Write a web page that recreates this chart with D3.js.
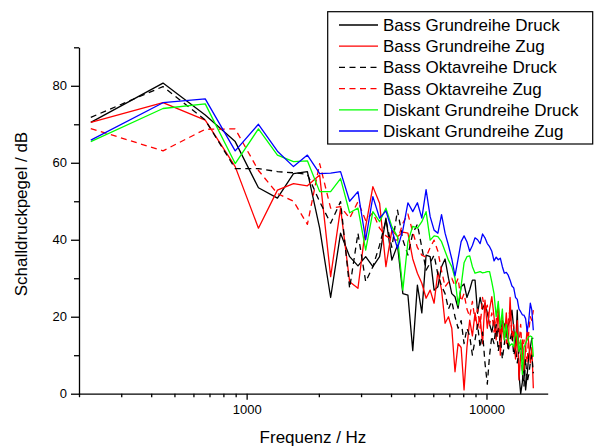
<!DOCTYPE html>
<html><head><meta charset="utf-8">
<script src="https://cdn.jsdelivr.net/npm/d3@7"></script>
<style>body{margin:0;background:#fff}svg{display:block}text{font-family:"Liberation Sans",Arial,sans-serif;fill:#000}</style>
</head><body>
<svg id="c" width="594" height="446"></svg>
<script>
const freqs = [224,448,672,896,1120,1344,1568,1792,2016,2240,2464,2688,2912,3136,3360,3584,3808,4032,4256,4480,4704,4928,5152,5376,5600,5824,6048,6272,6496,6720,6944,7168,7392,7616,7840,8064,8288,8512,8736,8960,9184,9408,9632,9856,10080,10304,10528,10752,10976,11200,11424,11648,11872,12096,12320,12544,12768,12992,13216,13440,13664,13888,14112,14336,14560,14784,15008,15232,15456,15680];

const bassGrundDruck = [70.5,80.7,72.4,65.5,53.5,50.8,57.2,57.7,43,25,41.7,35.6,33.2,35.6,33,35.6,45.6,34.7,38.6,26,25.6,11.2,28.2,21,36,35.6,26.9,27.8,33,35,30,26,25.2,22.2,27.8,28.5,25,27,29.5,29.5,20.9,25,22,23.5,21,18,16,19,14.8,17,14.8,19,18,16,18,19.1,21.7,17,12,21.7,5,0,3,8,1,5,10,12,14.4,14.4];
const bassGrundZug = [70.5,75.6,71.1,59,43,52.9,54.6,54,56.8,30.4,48.2,29.1,27.4,43.4,53.8,49.5,33,42.5,40.8,42,41.7,35,31.3,28.7,24.8,26.9,23.5,31.7,27,18.3,20,17,5.7,13,12,1,12,19.1,15,21,17,20,13,24.3,17,22,25.2,20,14,22,10,18,14,21,12,25,14,16,9,19,3.6,10,14,6,12,17,13,8,12,1.4];
const bassOktDruck = [71.8,79.8,71.1,58.5,58.5,57.7,57.4,57,49.9,44.3,49.9,27.4,41.7,29.1,33,38.6,45.1,38,47.7,40,36,41.7,44,38,32.1,34,36,31,28,26,22,24,20,17,19,13,17,15,10,14,18,12,16,8,2.5,10,15,13,18,11,15,9,13,17,11,14,16,10,12,8,11,13,6,2,9,3,5,8,10,5.3];
const bassOktZug = [68.9,63.1,68.7,68.8,58,52,50,44,59.8,48.2,48.6,45.6,49.9,45,47,43,41,40,39.9,44.3,46.7,42,38,36,35.5,38,39.9,37,32,27.8,29,30,28,30,24,26,22,20,24,19,22,17,25,21,23,18,21,16,19,23,15,20,17,13,19,22,15,18,10,16,13,18,9,14,12,8,16,20,19,21.7];
const diskGrundDruck = [65.5,74.1,75.3,59.8,68.8,62,60.3,60.5,52.5,52.5,55.9,47,48.2,37.3,47.3,44.7,48.2,43.4,40.8,26.9,39.5,43.5,43,44.7,47.3,39.9,41,40.8,39.5,37,34.7,33,30,23,28,34,35.6,35.8,33,31.3,31.5,31.7,31.4,31.5,31.7,31.7,29,26,20,24,17,22,14,18,13.9,12.5,13,12.2,16,15,11,14,5,12,13.1,14,14.8,15,14.8,9.6];
const diskGrundZug = [65.9,75.6,76.6,63.1,70,63,59,62,57.2,57.3,57.7,50,52.5,40,51.2,45.6,47.5,42.5,37.8,42.5,49.6,47.3,49.6,45.6,53,46,42.5,41.7,46.5,41.7,38.5,35,30.6,35,39.5,41,39.5,37,38.5,40.5,40,39,41.5,40.5,39,38.2,37,34.5,35.5,34.8,35.2,33,31.3,31.5,30.8,29.5,28,27.5,25,24.5,22,21.3,20.5,20.4,19.5,16.1,19,23.5,21.7,16.5];

const seriesNames = ["Bass Grundreihe Druck","Bass Grundreihe Zug","Bass Oktavreihe Druck","Bass Oktavreihe Zug","Diskant Grundreihe Druck","Diskant Grundreihe Zug"];
const seriesValues = [bassGrundDruck,bassGrundZug,bassOktDruck,bassOktZug,diskGrundDruck,diskGrundZug];
const seriesColors = ["#000000","#ff0000","#000000","#ff0000","#00ff00","#0000ff"];
const seriesDash = [null,null,"6,4.5","6,4.5",null,null];

const yMajor = [0,20,40,60,80];
const yMinor = [10,30,50,70,90];
const xMajor = [1000,10000];
const xMinor = [200,300,400,500,600,700,800,900,2000,3000,4000,5000,6000,7000,8000,9000];

const svg = d3.select("#c");
const x = d3.scaleLog().domain([200,18000]).range([79,547.7]);
const y = d3.scaleLinear().domain([0,90]).range([393.7,47.3]);

const line = d3.line().x(d=>x(d[0])).y(d=>y(d[1]));
const plot = svg.append("g");
seriesValues.forEach((vals,i)=>{
  plot.append("path")
    .attr("d", line(freqs.map((f,j)=>[f,vals[j]])))
    .attr("fill","none")
    .attr("stroke",seriesColors[i])
    .attr("stroke-width",1.3)
    .attr("stroke-linejoin","round")
    .attr("stroke-dasharray",seriesDash[i]);
});

// Axes
const yAxis = d3.axisLeft(y).tickValues(yMajor).tickSize(8).tickPadding(4).tickSizeOuter(0);
const gy = svg.append("g").attr("transform","translate(79,0)").call(yAxis);
gy.selectAll(".tick line").attr("stroke-width",1.3);
gy.select(".domain").attr("stroke-width",1.3);
gy.selectAll("text").style("font-size","13px").style("font-family","'Liberation Sans',Arial,sans-serif");
svg.append("g").attr("transform","translate(79,0)").call(d3.axisLeft(y).tickValues(yMinor).tickSize(5).tickFormat("").tickSizeOuter(0))
  .call(g=>{g.select(".domain").remove(); g.selectAll("line").attr("stroke-width",1.3);});

const xAxis = d3.axisBottom(x).tickValues(xMajor).tickFormat(d3.format("d")).tickSize(6).tickPadding(5).tickSizeOuter(0);
const gx = svg.append("g").attr("transform","translate(0,393.7)").call(xAxis);
gx.selectAll(".tick line").attr("stroke-width",1.3);
gx.select(".domain").attr("stroke-width",1.3);
gx.selectAll("text").style("font-size","13px").style("font-family","'Liberation Sans',Arial,sans-serif");
svg.append("g").attr("transform","translate(0,393.7)").call(d3.axisBottom(x).tickValues(xMinor).tickSize(3.5).tickFormat("").tickSizeOuter(0))
  .call(g=>{g.select(".domain").remove(); g.selectAll("line").attr("stroke-width",1.3);});

svg.append("text").attr("x",313).attr("y",443).attr("text-anchor","middle").style("font-size","17px").text("Frequenz / Hz");
svg.append("text").attr("transform","translate(27,214) rotate(-90)").attr("text-anchor","middle").style("font-size","17px").text("Schalldruckpegel / dB");

// Legend
const lg = svg.append("g");
lg.append("rect").attr("x",327.7).attr("y",11.7).attr("width",265).attr("height",132.3).attr("fill","#fff").attr("stroke","#000").attr("stroke-width",1.2);
seriesNames.forEach((nm,i)=>{
  const cy = 25 + i*21.2;
  lg.append("line").attr("x1",339).attr("x2",378).attr("y1",cy).attr("y2",cy)
    .attr("stroke",seriesColors[i]).attr("stroke-width",1.3).attr("stroke-dasharray",seriesDash[i]);
  lg.append("text").attr("x",383).attr("y",cy+6).style("font-size","17px").text(nm);
});
</script>
</body></html>
